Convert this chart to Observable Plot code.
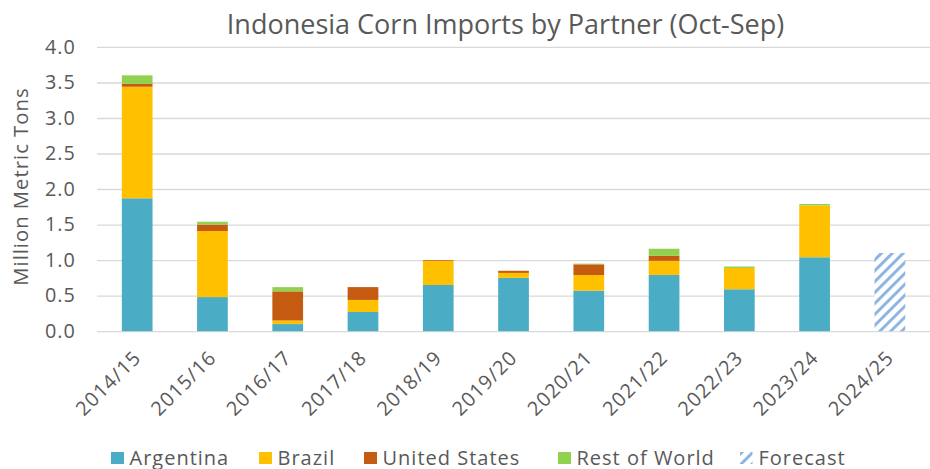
<!DOCTYPE html>
<html>
<head>
<meta charset="utf-8">
<script src="https://cdn.jsdelivr.net/npm/d3@7"></script>
<script src="https://cdn.jsdelivr.net/npm/@observablehq/plot@0.6"></script>
<style>
  html, body { margin: 0; padding: 0; background: #fff; width: 930px; height: 469px; overflow: hidden; }
  body { position: relative; font-family: "Open Sans", sans-serif; color: #595959; }
  #title { position: absolute; top: 6px; left: 0; width: 1011px; text-align: center; font-size: 27px; line-height: 36px; white-space: nowrap; }
  #chart { position: absolute; top: 40px; left: 0; line-height: 0; }
  #legend { position: absolute; top: 448px; left: 0; width: 930px; height: 20px; font-size: 20px; line-height: 20px; letter-spacing: 1px; white-space: nowrap; }
  .item { position: absolute; top: 0; display: flex; align-items: center; height: 20px; }
  .sw { width: 12.5px; height: 12.5px; margin-right: 6px; flex: none; }
</style>
</head>
<body>
<div id="title">Indonesia Corn Imports by Partner (Oct-Sep)</div>
<div id="chart"></div>
<div id="legend"></div>
<script>
// Marketing years (Oct-Sep)
const years = ["2014/15", "2015/16", "2016/17", "2017/18", "2018/19", "2019/20", "2020/21", "2021/22", "2022/23", "2023/24", "2024/25"];
// Million metric tons by partner
const argentina    = [1.87, 0.48, 0.10, 0.27, 0.65, 0.75, 0.57, 0.79, 0.59, 1.04, null];
const brazil       = [1.57, 0.93, 0.05, 0.17, 0.34, 0.07, 0.22, 0.20, 0.30, 0.73, null];
const unitedStates = [0.04, 0.09, 0.41, 0.18, 0.01, 0.03, 0.15, 0.07, 0.00, 0.00, null];
const restOfWorld  = [0.12, 0.04, 0.06, 0.00, 0.00, 0.00, 0.01, 0.10, 0.02, 0.02, null];
const forecast     = [null, null, null, null, null, null, null, null, null, null, 1.10];
const partners = ["Argentina", "Brazil", "United States", "Rest of World"];
const partnerColors = ["#4BACC6", "#FFC000", "#C55A11", "#92D050"];
const forecastLabel = "Forecast";
const forecastColor = "#8DB4E2";
const yTicks = [0, 0.5, 1.0, 1.5, 2.0, 2.5, 3.0, 3.5, 4.0];
const yLabel = "Million Metric Tons";

const seriesValues = [argentina, brazil, unitedStates, restOfWorld];
const stacked = partners.flatMap((p, k) =>
  seriesValues[k].map((v, i) => ({year: years[i], partner: p, value: v}))
).filter(d => d.value != null);
const fc = years.map((y, i) => ({year: y, value: forecast[i]})).filter(d => d.value != null);

const chart = Plot.plot({
  width: 939,
  height: 400,
  marginLeft: 98,
  marginRight: 0,
  marginTop: 7,
  marginBottom: 106,
  style: {fontFamily: "Open Sans", fontSize: "20px", color: "#595959", background: "transparent", overflow: "visible", letterSpacing: "1px"},
  x: {domain: years, paddingInner: 0.595, paddingOuter: 0.2975, label: null},
  y: {domain: [0, 4], label: null},
  color: {domain: partners, range: partnerColors},
  marks: [
    Plot.ruleY(yTicks, {stroke: "#D9D9D9", strokeWidth: 1.4}),
    Plot.barY(stacked, {x: "year", y: "value", fill: "partner", order: null}),
    Plot.barY(fc, {x: "year", y: "value", fill: "url(#fcHatch)"}),
    Plot.axisY({ticks: yTicks, tickFormat: d3.format(".1f"), tickSize: 0, tickPadding: 22, label: null, fontSize: 20}),
    Plot.axisX({tickRotate: -45, tickSize: 0, tickPadding: 23, label: null, fontSize: 20}),
    Plot.text([yLabel], {frameAnchor: "left", rotate: -90, dx: -85, dy: -3, lineAnchor: "top", textAnchor: "middle", fontSize: 20.5, fill: "#595959"})
  ]
});

function addHatch(sel, id) {
  const pat = sel.append("pattern")
    .attr("id", id)
    .attr("patternUnits", "userSpaceOnUse")
    .attr("width", 7.8).attr("height", 7.8)
    .attr("patternTransform", "rotate(45)");
  pat.append("rect").attr("width", 7.8).attr("height", 7.8).attr("fill", "#fff");
  pat.append("rect").attr("width", 3).attr("height", 7.8).attr("fill", forecastColor);
}
addHatch(d3.select(chart).insert("defs", ":first-child"), "fcHatch");
document.getElementById("chart").appendChild(chart);

// legend
const legendLeft = [111, 259, 364, 558, 740];
const legendItems = partners.map((p, i) => ({label: p, color: partnerColors[i]}))
  .concat([{label: forecastLabel, hatch: true}]);
const legend = d3.select("#legend");
legendItems.forEach((it, i) => {
  const item = legend.append("div").attr("class", "item").style("left", legendLeft[i] + "px");
  if (it.hatch) {
    const s = item.append("svg").attr("width", 12.5).attr("height", 12.5).style("margin-right", "6px").style("flex", "none");
    addHatch(s.append("defs"), "lgHatch");
    s.append("rect").attr("width", 12.5).attr("height", 12.5).attr("fill", "url(#lgHatch)");
  } else {
    item.append("div").attr("class", "sw").style("background", it.color);
  }
  item.append("span").text(it.label);
});
</script>
</body>
</html>
